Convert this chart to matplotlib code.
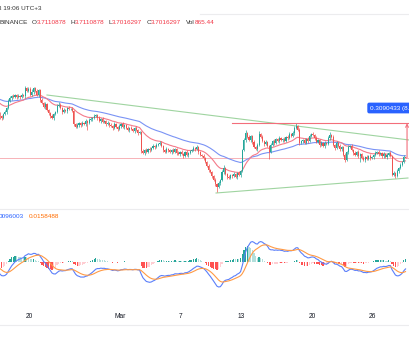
import numpy as np
import pandas as pd
import matplotlib
matplotlib.use("Agg")
import matplotlib.pyplot as plt
from matplotlib.lines import Line2D

# 4h candles, Feb 15 -> Mar 29 (first two days are off screen, they only feed the averages)
closes = [
    4.256, 4.274, 4.247, 4.265, 4.238, 4.229,
    4.202, 4.184, 4.157, 4.139, 4.112, 4.094,
    4.076, 4.058, 4.094, 4.112, 4.148, 4.211,
    4.238, 4.256, 4.247, 4.265, 4.247, 4.256,
    4.247, 4.265, 4.256, 4.328, 4.301, 4.319,
    4.265, 4.292, 4.328, 4.301, 4.265, 4.310,
    4.220, 4.193, 4.157, 4.184, 4.130, 4.103,
    4.076, 4.058, 4.094, 4.112, 4.166, 4.175,
    4.148, 4.112, 4.130, 4.121, 4.148, 4.139,
    4.139, 4.121, 4.004, 3.977, 3.995, 4.013,
    3.995, 4.013, 4.004, 4.031, 4.013, 4.040,
    4.049, 4.058, 4.076, 4.085, 4.058, 4.031,
    4.049, 4.022, 4.031, 4.004, 4.013, 3.995,
    3.986, 3.968, 4.004, 3.977, 3.959, 3.986,
    4.004, 3.977, 3.995, 3.968, 3.950, 3.968,
    3.959, 3.941, 3.968, 3.950, 3.923, 3.932,
    3.761, 3.743, 3.770, 3.752, 3.779, 3.770,
    3.788, 3.806, 3.797, 3.815, 3.824, 3.833,
    3.806, 3.770, 3.752, 3.779, 3.770, 3.752,
    3.770, 3.752, 3.779, 3.743, 3.734, 3.752,
    3.734, 3.716, 3.752, 3.725, 3.743, 3.761,
    3.770, 3.788, 3.779, 3.797, 3.752, 3.725,
    3.716, 3.698, 3.662, 3.626, 3.590, 3.572,
    3.536, 3.500, 3.464, 3.437, 3.473, 3.500,
    3.572, 3.608, 3.554, 3.527, 3.518, 3.545,
    3.536, 3.554, 3.527, 3.563, 3.545, 3.581,
    3.770, 3.860, 3.923, 3.887, 3.860, 3.896,
    3.842, 3.797, 3.779, 3.815, 3.914, 3.887,
    3.851, 3.824, 3.842, 3.806, 3.752, 3.815,
    3.851, 3.833, 3.869, 3.851, 3.878, 3.860,
    3.869, 3.851, 3.887, 3.878, 3.914, 3.896,
    3.923, 3.968, 3.986, 3.950, 3.833, 3.851,
    3.860, 3.833, 3.869, 3.851, 3.896, 3.914,
    3.905, 3.878, 3.842, 3.860, 3.815, 3.833,
    3.806, 3.833, 3.824, 3.878, 3.905, 3.887,
    3.815, 3.788, 3.833, 3.806, 3.779, 3.797,
    3.725, 3.680, 3.752, 3.797, 3.806, 3.770,
    3.743, 3.725, 3.752, 3.716, 3.734, 3.698,
    3.680, 3.707, 3.689, 3.716, 3.698, 3.707,
    3.725, 3.743, 3.752, 3.734, 3.743, 3.716,
    3.734, 3.707, 3.725, 3.743, 3.716, 3.545,
    3.563, 3.536, 3.581, 3.608, 3.635, 3.662,
    3.7110878, 3.7016297,
]
upper_wicks = [
    .01, .02, .01, .01, .02, .01,  .01, .01, .02, .01, .01, .02,
    .02, .01, .01, .02, .01, .02,  .02, .01, .02, .01, .01, .02,
    .01, .02, .01, .02, .01, .02,  .02, .03, .01, .01, .02, .01,
    .01, .02, .01, .02, .01, .01,  .01, .02, .01, .01, .02, .03,
    .02, .01, .02, .01, .01, .02,  .01, .02, .01, .01, .02, .01,
    .01, .02, .01, .02, .01, .02,  .02, .01, .02, .01, .01, .02,
    .01, .02, .01, .01, .02, .01,  .02, .01, .02, .01, .01, .02,
    .01, .02, .01, .01, .02, .01,  .02, .01, .01, .02, .01, .01,
    .01, .02, .01, .02, .01, .02,  .01, .02, .01, .02, .01, .02,
    .02, .01, .01, .02, .01, .01,  .01, .02, .01, .01, .02, .01,
    .02, .01, .01, .02, .01, .01,  .01, .02, .01, .02, .01, .01,
    .01, .02, .01, .01, .02, .01,  .01, .01, .02, .01, .02, .01,
    .02, .03, .01, .01, .02, .01,  .01, .02, .01, .01, .02, .01,
    .01, .02, .03, .01, .02, .01,  .01, .02, .01, .02, .03, .01,
    .02, .01, .02, .01, .01, .02,  .01, .02, .01, .01, .02, .01,
    .01, .02, .01, .02, .02, .01,  .02, .02, .03, .01, .02, .01,
    .01, .02, .01, .02, .02, .01,  .02, .01, .02, .01, .01, .02,
    .01, .02, .01, .02, .03, .01,  .02, .01, .02, .01, .02, .01,
    .01, .02, .01, .02, .01, .02,  .01, .02, .01, .02, .01, .01,
    .02, .01, .02, .01, .02, .01,  .01, .02, .01, .02, .01, .01,
    .02, .01, .02, .01, .02, .01,  .02, .01, .02, .01, .02, .01,
    .01, .0,
]
lower_wicks = [
    .01, .01, .02, .01, .01, .02,  .02, .01, .01, .02, .01, .01,
    .03, .02, .01, .01, .02, .01,  .01, .02, .01, .01, .02, .01,
    .02, .01, .01, .02, .01, .01,  .01, .01, .02, .01, .01, .02,
    .02, .01, .01, .02, .01, .02,  .02, .01, .02, .01, .01, .01,
    .01, .02, .01, .01, .02, .01,  .01, .01, .02, .01, .01, .02,
    .02, .01, .01, .02, .06, .01,  .01, .02, .01, .01, .02, .01,
    .02, .01, .01, .02, .01, .02,  .01, .02, .01, .01, .02, .01,
    .02, .01, .02, .01, .01, .02,  .01, .01, .02, .01, .02, .01,
    .02, .01, .02, .01, .01, .02,  .01, .01, .02, .01, .01, .01,
    .01, .02, .01, .01, .02, .01,  .02, .01, .01, .02, .01, .02,
    .01, .02, .01, .01, .02, .01,  .01, .01, .02, .01, .02, .01,
    .01, .02, .01, .01, .02, .01,  .02, .01, .02, .045, .01, .02,
    .01, .02, .01, .02, .01, .01,  .02, .01, .01, .02, .01, .02,
    .01, .01, .02, .01, .01, .02,  .02, .01, .01, .02, .01, .01,
    .01, .02, .01, .01, .06, .01,  .01, .02, .01, .01, .02, .01,
    .02, .01, .01, .02, .01, .01,  .01, .02, .01, .01, .02, .01,
    .02, .01, .01, .02, .01, .01,  .01, .02, .01, .01, .02, .01,
    .01, .02, .01, .01, .02, .01,  .01, .02, .01, .01, .02, .02,
    .01, .02, .01, .02, .01, .01,  .02, .01, .01, .02, .05, .01,
    .01, .02, .01, .01, .02, .01,  .02, .01, .01, .02, .01, .02,
    .02, .01, .02, .01, .01, .01,  .01, .02, .01, .02, .01, .01,
    .01, .0,
]
start = "2023-02-15"
tick_days = [0, 9, 15, 21, 28, 34]
tick_labels = ["20", "Mar", "7", "13", "20", "26"]
trend_upper = ([1.75, 37.7], [4.265, 3.859])
trend_lower = ([18.49, 37.49], [3.383, 3.518])
measure_from, measure_to = 20.07, 37.4
measure_change = 0.3090433

UP, DOWN = "#26a69a", "#ef5350"

dates = pd.date_range(start, periods=len(closes), freq="4h")
t = ((dates - pd.Timestamp("2023-02-20")) / pd.Timedelta(days=1)).values + 2 / 24
c = np.array(closes)
o = np.r_[c[0], c[:-1]]
hi = np.maximum(o, c) + np.array(upper_wicks)
lo = np.minimum(o, c) - np.array(lower_wicks)
cols = np.where(c >= o, UP, DOWN)

s = pd.Series(c)
ema20 = s.ewm(span=20, adjust=False).mean()
ema50 = s.ewm(span=50, adjust=False).mean()
macd = s.ewm(span=12, adjust=False).mean() - s.ewm(span=26, adjust=False).mean()
signal = macd.ewm(span=9, adjust=False).mean()
hist = (macd - signal).values
prev = np.r_[0, hist[:-1]]
hcols = np.where(hist >= 0, np.where(hist > prev, "#26a69a", "#b2dfdb"),
                 np.where(hist < prev, "#ff5252", "#ffcdd2"))

W, H = 409, 344
fig = plt.figure(figsize=(W / 100, H / 100), dpi=100)
fig.patch.set_facecolor("white")
xlim = (-29.3 / 10.1, (W - 29.3) / 10.1)

ax = fig.add_axes([0, 1 - 209 / H, 1, 179 / H])
ax.set_xlim(xlim)
ax.set_ylim(3.239, 4.85)
ax.axis("off")

ax.axhline(c[-1], color="#f7b2b7", lw=0.7, zorder=1)
ax.plot(*trend_upper, color="#9fd4a0", lw=0.8)
ax.plot(*trend_lower, color="#9fd4a0", lw=0.8)
ax.plot(t, ema50, color="#7a93f5", lw=0.8, zorder=2)
ax.plot(t, ema20, color="#f47a8a", lw=0.8, zorder=2)
ax.vlines(t, lo, hi, colors=cols, lw=0.5, zorder=3)
ax.bar(t, np.maximum(np.abs(c - o), 0.003), bottom=np.minimum(o, c), width=0.11,
       color=cols, linewidth=0, zorder=4)

top = c[-1] + measure_change
ax.plot([measure_from, 37.49], [top, top], color="#f36e7b", lw=0.8, zorder=5)
ax.annotate("", xy=(measure_to, top), xytext=(measure_to, c[-1]),
            arrowprops=dict(arrowstyle="->", color="#f36e7b", lw=0.8,
                            mutation_scale=5, shrinkA=0, shrinkB=0), zorder=5)
ax.text(33.75, 4.148, "0.3090433 (8.35%) 3090", color="white", fontsize=4.6,
        family="Liberation Sans", va="center", ha="left",
        bbox=dict(boxstyle="round,pad=0.45,rounding_size=0.3", fc="#2962ff", ec="none"))

ax2 = fig.add_axes([0, 1 - 302 / H, 1, 80 / H])
ax2.set_xlim(xlim)
vis = t > xlim[0]
lim = 1.6 * np.abs(macd.values[vis]).max()
ax2.set_ylim(-lim, lim)
ax2.bar(t, hist, width=0.12, color=hcols, linewidth=0)
ax2.plot(t, macd, color="#5b7ffa", lw=0.8)
ax2.plot(t, signal, color="#ff9a45", lw=0.8)
for sp in ax2.spines.values():
    sp.set_visible(False)
ax2.set_yticks([])
ax2.set_xticks(tick_days)
ax2.set_xticklabels(tick_labels, fontsize=4.8, color="#131722", family="Liberation Sans")
ax2.tick_params(axis="x", length=0, pad=8)

# separators
for yy in (209, 325):
    fig.add_artist(Line2D([0, 1], [1 - yy / H] * 2, color="#ececee", lw=0.8))
fig.add_artist(Line2D([200 / W, 1], [1 - 14 / H] * 2, color="#ececee", lw=0.8))

# header
fig.text(-0.004, 1 - 8 / H, "3 19:06 UTC+3", fontsize=4.6, color="#333333",
         family="Liberation Sans", va="center")
parts = [("BINANCE", "#333333", 0), ("O", "#333333", 3), ("3.7110878", "#f23645", 0),
         ("H", "#333333", 3), ("3.7110878", "#f23645", 0), ("L", "#333333", 3),
         ("3.7016297", "#f23645", 0), ("C", "#333333", 3), ("3.7016297", "#f23645", 0),
         ("Vol", "#333333", 3), ("865.44", "#f23645", 0)]
prev_t = None
for txt, col, gap in parts:
    if prev_t is None:
        prev_t = fig.text(-0.002, 1 - 22 / H, txt, fontsize=4.6, color=col,
                          family="Liberation Sans", va="center")
    else:
        prev_t = ax.annotate(txt, xy=(1, 0.5), xycoords=prev_t, xytext=(gap, 0),
                             textcoords="offset points", fontsize=4.6, color=col,
                             family="Liberation Sans", va="center", annotation_clip=False)

leg = fig.text(-0.002, 1 - 217 / H, "0096003", fontsize=4.6, color="#2962ff",
               family="Liberation Sans", va="center")
ax.annotate("0.0158488", xy=(1, 0.5), xycoords=leg, xytext=(3, 0), textcoords="offset points",
            fontsize=4.6, color="#ff6d00", family="Liberation Sans", va="center",
            annotation_clip=False)

fig.savefig("out.png", dpi=100, facecolor="white")
